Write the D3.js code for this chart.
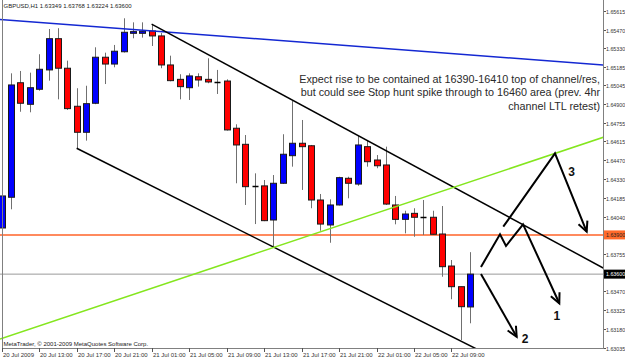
<!DOCTYPE html>
<html>
<head>
<meta charset="utf-8">
<script src="https://cdn.jsdelivr.net/npm/d3@7"></script>
<style>
  body { margin: 0; background: #fff; }
  svg { display: block; }
</style>
</head>
<body>
<div class="chart"></div>
<script>
// Hourly GBPUSD bars, 20 Jul 2009 09:00 .. 22 Jul 2009 11:00
const opens = [1.63953, 1.64188, 1.65064, 1.64899, 1.65014, 1.65162, 1.65401, 1.65175, 1.64884, 1.64685,
  1.64907, 1.65259, 1.65207, 1.65301, 1.65442, 1.65442, 1.65460, 1.65422, 1.65200, 1.65090,
  1.65026, 1.65110, 1.65090, 1.65072, 1.65077, 1.64716, 1.64593, 1.64274, 1.64275, 1.64014,
  1.64295, 1.64506, 1.64601, 1.64582, 1.64167, 1.63976, 1.64129, 1.64333, 1.64289, 1.64575,
  1.64473, 1.64435, 1.64129, 1.64019, 1.64065, 1.64039, 1.64035, 1.63907, 1.63662, 1.63504,
  1.63349];
const highs = [1.64312, 1.65136, 1.65154, 1.65141, 1.65282, 1.65475, 1.65481, 1.65233, 1.65022, 1.65041,
  1.65335, 1.65294, 1.65353, 1.65557, 1.65526, 1.65526, 1.65513, 1.65445, 1.65271, 1.65129,
  1.65136, 1.65136, 1.65251, 1.65162, 1.65090, 1.64746, 1.64664, 1.64371, 1.64320, 1.64358,
  1.64670, 1.64924, 1.64779, 1.64588, 1.64213, 1.64172, 1.64345, 1.64345, 1.64657, 1.64618,
  1.64511, 1.64575, 1.64198, 1.64085, 1.64104, 1.64167, 1.64085, 1.64121, 1.63708, 1.63504,
  1.63768];
const lows = [1.63940, 1.64096, 1.64842, 1.64838, 1.65003, 1.65080, 1.64937, 1.64856, 1.64563, 1.64621,
  1.64900, 1.65054, 1.65182, 1.65295, 1.65404, 1.65409, 1.65345, 1.65175, 1.65075, 1.64937,
  1.64932, 1.65034, 1.65060, 1.64978, 1.64698, 1.64295, 1.64129, 1.63983, 1.64005, 1.63810,
  1.64290, 1.64422, 1.64244, 1.64104, 1.63932, 1.63840, 1.64125, 1.64180, 1.64276, 1.64422,
  1.64410, 1.64129, 1.63981, 1.63912, 1.63886, 1.63899, 1.63900, 1.63580, 1.63408, 1.63096,
  1.63224];
const closes = [1.64198, 1.65047, 1.64907, 1.65026, 1.65167, 1.65401, 1.65175, 1.64866, 1.64685, 1.64904,
  1.65259, 1.65207, 1.65305, 1.65450, 1.65455, 1.65458, 1.65422, 1.65200, 1.65080, 1.65034,
  1.65116, 1.65085, 1.65070, 1.65072, 1.64703, 1.64588, 1.64269, 1.64274, 1.64009, 1.64295,
  1.64517, 1.64601, 1.64575, 1.64167, 1.63983, 1.64129, 1.64338, 1.64295, 1.64588, 1.64460,
  1.64429, 1.64136, 1.64019, 1.64060, 1.64035, 1.64039, 1.63905, 1.63657, 1.63504, 1.63351,
  1.63600];

const timeLabels = ["20 Jul 2009", "20 Jul 13:00", "20 Jul 17:00", "20 Jul 21:00", "21 Jul 01:00",
  "21 Jul 05:00", "21 Jul 09:00", "21 Jul 13:00", "21 Jul 17:00", "21 Jul 21:00",
  "22 Jul 01:00", "22 Jul 05:00", "22 Jul 09:00"];
const priceTicks = [1.65615, 1.65470, 1.65330, 1.65185, 1.65045, 1.64900, 1.64755, 1.64615, 1.64470,
  1.64330, 1.64185, 1.64040, 1.63900, 1.63755, 1.63600, 1.63470, 1.63325, 1.63180, 1.63035];

const headerText = "GBPUSD,H1  1.63349 1.63768 1.63224 1.63600";
const footerText = "MetaTrader, \u00a9 2001-2009 MetaQuotes Software Corp.";
const noteLines = [
  "Expect rise to be contained at 16390-16410 top of channel/res,",
  "but could see Stop hunt spike through to 16460 area (prev. 4hr",
  "channel LTL retest)"
];

// levels and trend lines as [bar index, price]
const resistanceLevel = 1.63900;
const lastPrice = 1.63600;
const blueTrend = [[-0.18, 1.65548], [64.2, 1.65200]];
const channelTop = [[16, 1.65513], [64.2, 1.63647]];
const channelBottom = [[8, 1.64563], [52, 1.62980]];
const greenTrend = [[-0.18, 1.63104], [64.2, 1.64647]];
const arrowOne = [[51.15, 1.63655], [53.18, 1.63905], [53.82, 1.63815], [55.64, 1.63981], [59.51, 1.63377]];
const arrowTwo = [[51.15, 1.63601], [54.96, 1.63121]];
const arrowThree = [[53.53, 1.63963], [59.05, 1.64524], [62.43, 1.63925]];
const arrowLabels = [["1", 59.26, 1.63280], ["2", 55.85, 1.63104], ["3", 60.83, 1.64384]];

const width = 625;
const height = 359;
const plotRight = 603;
const plotBottom = 348;

const x = d3.scaleLinear().domain([0, 50]).range([1.7, 470.2]);
const y = d3.scaleLinear().domain([1.63035, 1.65615]).range([348, 10.7]);

const svg = d3.select(".chart").append("svg")
  .attr("width", width)
  .attr("height", height)
  .style("background", "#fff");

svg.append("clipPath").attr("id", "plotClip")
  .append("rect").attr("x", 0).attr("y", 0).attr("width", plotRight).attr("height", plotBottom);

const plot = svg.append("g").attr("clip-path", "url(#plotClip)");

// horizontal levels
plot.append("line")
  .attr("x1", 0).attr("x2", plotRight)
  .attr("y1", y(lastPrice)).attr("y2", y(lastPrice))
  .attr("stroke", "#9a9a9a").attr("stroke-width", 1);

plot.append("line")
  .attr("x1", 0).attr("x2", plotRight)
  .attr("y1", y(resistanceLevel)).attr("y2", y(resistanceLevel))
  .attr("stroke", "#ff8a5e").attr("stroke-width", 2);

// candles
const bars = d3.range(opens.length).map(i => ({
  i, o: opens[i], h: highs[i], l: lows[i], c: closes[i]
}));

plot.append("g").selectAll("line")
  .data(bars)
  .join("line")
  .attr("x1", d => Math.round(x(d.i)) + 0.5)
  .attr("x2", d => Math.round(x(d.i)) + 0.5)
  .attr("y1", d => y(d.h))
  .attr("y2", d => y(d.l))
  .attr("stroke", "#707070")
  .attr("stroke-width", 1);

const bodyW = 6;
plot.append("g").selectAll("rect")
  .data(bars.filter(d => Math.abs(y(d.o) - y(d.c)) >= 1))
  .join("rect")
  .attr("x", d => Math.round(x(d.i)) + 0.5 - bodyW / 2)
  .attr("y", d => y(Math.max(d.o, d.c)))
  .attr("width", bodyW)
  .attr("height", d => Math.abs(y(d.o) - y(d.c)))
  .attr("fill", d => d.c >= d.o ? "#0000ff" : "#ff0000")
  .attr("stroke", "#1a1a1a")
  .attr("stroke-width", 1);

plot.append("g").selectAll("line")
  .data(bars.filter(d => Math.abs(y(d.o) - y(d.c)) < 1))
  .join("line")
  .attr("x1", d => Math.round(x(d.i)) + 0.5 - bodyW / 2)
  .attr("x2", d => Math.round(x(d.i)) + 0.5 + bodyW / 2)
  .attr("y1", d => Math.round(y(d.c)) + 0.5)
  .attr("y2", d => Math.round(y(d.c)) + 0.5)
  .attr("stroke", "#000")
  .attr("stroke-width", 1.5);

// trend lines
const trendLine = d3.line().x(d => x(d[0])).y(d => y(d[1]));
const trends = [
  { pts: blueTrend, color: "#1428d2" },
  { pts: channelTop, color: "#000" },
  { pts: channelBottom, color: "#000" },
  { pts: greenTrend, color: "#84e61e" }
];
plot.append("g").selectAll("path")
  .data(trends)
  .join("path")
  .attr("d", d => trendLine(d.pts))
  .attr("fill", "none")
  .attr("stroke", d => d.color)
  .attr("stroke-width", 1.5);

// scenario arrows
const arrows = [arrowOne, arrowTwo, arrowThree];
const arrowGroup = plot.append("g")
  .attr("fill", "none")
  .attr("stroke", "#000")
  .attr("stroke-width", 2)
  .attr("stroke-linejoin", "miter");

arrows.forEach(pts => {
  arrowGroup.append("path").attr("d", trendLine(pts));
  const a = pts[pts.length - 2], b = pts[pts.length - 1];
  const x1 = x(a[0]), y1 = y(a[1]), x2 = x(b[0]), y2 = y(b[1]);
  const ang = Math.atan2(y2 - y1, x2 - x1);
  const len = 11, spread = 0.45;
  const head = [
    [x2 - len * Math.cos(ang - spread), y2 - len * Math.sin(ang - spread)],
    [x2, y2],
    [x2 - len * Math.cos(ang + spread), y2 - len * Math.sin(ang + spread)]
  ];
  arrowGroup.append("path").attr("d", d3.line()(head));
});

plot.append("g").selectAll("text")
  .data(arrowLabels)
  .join("text")
  .attr("x", d => x(d[1]))
  .attr("y", d => y(d[2]))
  .attr("text-anchor", "middle")
  .attr("dominant-baseline", "central")
  .style("font", "bold 12px 'Liberation Sans', Arial, sans-serif")
  .attr("fill", "#111")
  .text(d => d[0]);

// comment text
svg.append("g").selectAll("text")
  .data(noteLines)
  .join("text")
  .attr("x", 600)
  .attr("y", (d, i) => 82.5 + i * 13.5)
  .attr("text-anchor", "end")
  .style("font", "10.8px 'Liberation Sans', Arial, sans-serif")
  .attr("fill", "#2a2a2a")
  .text(d => d);

// frame
svg.append("line").attr("x1", 2.5).attr("x2", 2.5).attr("y1", 0).attr("y2", plotBottom)
  .attr("stroke", "#808080");
svg.append("line").attr("x1", plotRight + 0.5).attr("x2", plotRight + 0.5).attr("y1", 0).attr("y2", plotBottom + 0.5)
  .attr("stroke", "#808080");
svg.append("line").attr("x1", 2).attr("x2", plotRight + 1).attr("y1", plotBottom + 0.5).attr("y2", plotBottom + 0.5)
  .attr("stroke", "#808080");

const smallFont = "6px 'Liberation Sans', Arial, sans-serif";
const axisFont = "5.3px 'Liberation Sans', Arial, sans-serif";

// right price axis
const priceAxis = svg.append("g");
priceTicks.forEach(p => {
  const py = Math.round(y(p)) + 0.5;
  priceAxis.append("line")
    .attr("x1", plotRight + 1).attr("x2", plotRight + 3)
    .attr("y1", py).attr("y2", py)
    .attr("stroke", "#555");
  priceAxis.append("text")
    .attr("x", 606).attr("y", py)
    .attr("dominant-baseline", "central")
    .style("font", axisFont)
    .attr("fill", "#333")
    .text(p.toFixed(5));
});

// price tags
const tags = [
  { p: resistanceLevel, bg: "#ff6a2a", fg: "#222" },
  { p: lastPrice, bg: "#000", fg: "#fff" }
];
tags.forEach(t => {
  const py = y(t.p);
  svg.append("rect")
    .attr("x", plotRight + 1).attr("y", py - 4.5)
    .attr("width", width - plotRight - 1).attr("height", 9)
    .attr("fill", t.bg);
  svg.append("text")
    .attr("x", 606).attr("y", py)
    .attr("dominant-baseline", "central")
    .style("font", axisFont)
    .attr("fill", t.fg)
    .text(t.p.toFixed(5));
});

// bottom time axis, one label every 4 bars
const timeAxis = svg.append("g");
timeLabels.forEach((lab, k) => {
  const tx = Math.round(x(k * 4)) + 0.5;
  timeAxis.append("line")
    .attr("x1", tx).attr("x2", tx)
    .attr("y1", plotBottom).attr("y2", plotBottom + 4)
    .attr("stroke", "#555");
  timeAxis.append("text")
    .attr("x", tx + 0.5).attr("y", 354.5)
    .attr("dominant-baseline", "central")
    .style("font", smallFont)
    .attr("fill", "#333")
    .text(lab);
});

// header and footer
svg.append("text")
  .attr("x", 3.5).attr("y", 6)
  .attr("dominant-baseline", "central")
  .style("font", smallFont)
  .attr("fill", "#222")
  .text(headerText);

svg.append("text")
  .attr("x", 3.5).attr("y", 344)
  .attr("dominant-baseline", "central")
  .style("font", smallFont)
  .attr("fill", "#222")
  .text(footerText);
</script>
</body>
</html>
